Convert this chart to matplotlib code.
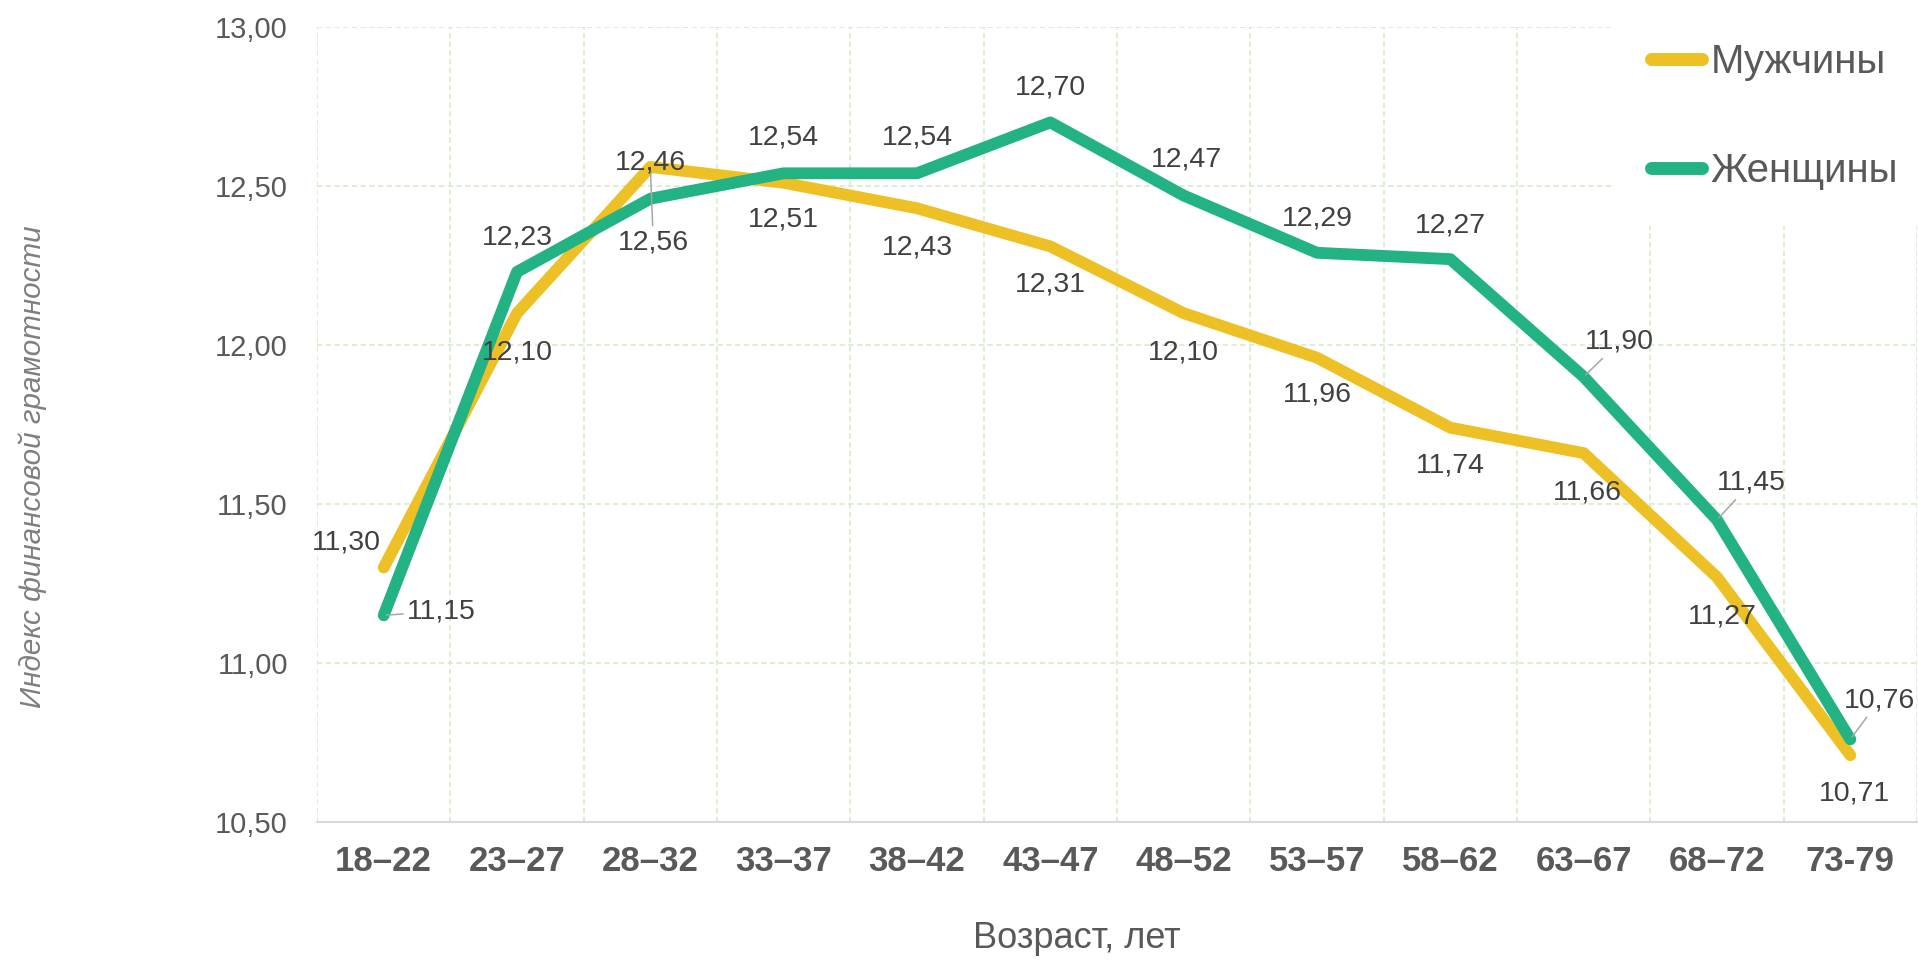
import matplotlib
matplotlib.use("Agg")
import matplotlib.pyplot as plt

plt.rcParams['font.family'] = ['Liberation Sans', 'DejaVu Sans']

# age groups and index values
ages = ['18–22', '23–27', '28–32', '33–37', '38–42', '43–47',
        '48–52', '53–57', '58–62', '63–67', '68–72', '73-79']
men = [11.30, 12.10, 12.56, 12.51, 12.43, 12.31, 12.10, 11.96, 11.74, 11.66, 11.27, 10.71]
women = [11.15, 12.23, 12.46, 12.54, 12.54, 12.70, 12.47, 12.29, 12.27, 11.90, 11.45, 10.76]
yticks = [10.5, 11.0, 11.5, 12.0, 12.5, 13.0]

yellow = '#EDC026'
green = '#22B283'
grid_c = '#D5E9C9'

W, H = 1919, 964
fig = plt.figure(figsize=(W / 100, H / 100), dpi=100)
ax = fig.add_axes([317 / W, 1 - 822 / H, 1600 / W, 795 / H])

x = list(range(len(ages)))
ax.plot(x, men, color=yellow, lw=8.5, solid_capstyle='round', solid_joinstyle='round',
        label='Мужчины', zorder=2)
ax.plot(x, women, color=green, lw=8.5, solid_capstyle='round', solid_joinstyle='round',
        label='Женщины', zorder=2.1)

ax.set_xlim(-0.5, len(ages) - 0.5)
ax.set_ylim(yticks[0], yticks[-1])
ax.set_xticks(x)
ax.set_xticklabels(ages, fontsize=25, fontweight='bold', color='#595959')
ax.set_xticks([i - 0.5 for i in range(len(ages) + 1)], minor=True)
ax.set_yticks(yticks)
ax.set_yticklabels([f'{v:.2f}'.replace('.', ',') for v in yticks], fontsize=21, color='#595959')
ax.tick_params(axis='both', which='both', length=0)
ax.tick_params(axis='y', pad=21)
ax.tick_params(axis='x', pad=16.5)

ax.set_axisbelow(True)
ax.grid(axis='y', which='major', color=grid_c, lw=1.1, dashes=(3.5, 2.2))
ax.grid(axis='x', which='minor', color=grid_c, lw=1.1, dashes=(3.5, 2.2))
for s in ['top', 'right', 'left']:
    ax.spines[s].set_visible(False)
ax.spines['bottom'].set_color('#D9D9D9')
ax.spines['bottom'].set_linewidth(1.5)

ax.set_xlabel('Возраст, лет', fontsize=26, color='#595959')
ax.xaxis.set_label_coords(0.475, -0.124)
ax.set_ylabel('Индекс финансовой грамотности', fontsize=21.3, style='italic', color='#7F7F7F')
ax.yaxis.set_label_coords(-0.169, 0.4465)

# label offsets in pixels (dx right, dy down) and which labels get a leader line
men_off = [(-37, -25), (0, 39), (3, 76), (0, 37), (0, 39), (0, 38),
           (0, 39), (0, 37), (0, 38), (4, 39), (5, 39), (4, 38)]
women_off = [(58, -4), (0, -34), (0, -36), (0, -36), (0, -36), (0, -35),
             (3, -36), (0, -34), (0, -34), (36, -35), (34, -37), (29, -39)]
men_lead = [2]
women_lead = [0, 9, 10, 11]

def put_labels(vals, offs, leads):
    for i, v in enumerate(vals):
        dx, dy = offs[i]
        arrow = None
        if i in leads:
            arrow = dict(arrowstyle='-', color='#A6A6A6', lw=1.1, shrinkA=1, shrinkB=2)
        ax.annotate(f'{v:.2f}'.replace('.', ','), xy=(i, v), xytext=(dx, -dy),
                    textcoords='offset pixels', ha='center', va='center',
                    fontsize=20.5, color='#404040', arrowprops=arrow, zorder=5)

put_labels(men, men_off, men_lead)
put_labels(women, women_off, women_lead)

leg = ax.legend(loc='upper left', bbox_to_anchor=(1615 / W, 1 - 7 / H),
                bbox_transform=fig.transFigure, fontsize=29, frameon=True,
                facecolor='white', edgecolor='none', framealpha=1, fancybox=False,
                borderpad=0.9, borderaxespad=0, handlelength=1.25, handletextpad=0.22,
                labelspacing=1.75)
for t in leg.get_texts():
    t.set_color('#595959')
for h in leg.get_lines():
    h.set_linewidth(9.3)
leg.set_zorder(6)

fig.savefig('out.png', dpi=100)
